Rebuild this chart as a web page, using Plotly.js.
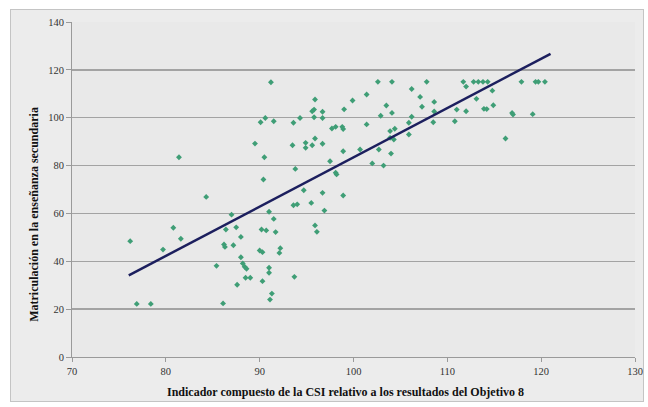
<!DOCTYPE html>
<html>
<head>
<meta charset="utf-8">
<script src="https://cdn.plot.ly/plotly-3.0.1.min.js"></script>
<style>
  html, body { margin: 0; padding: 0; background: #ffffff; }
  #frame { position: absolute; left: 10px; top: 9px; width: 634px; height: 393px;
           background: #ececec; border: 1px solid #c4c4c4; box-sizing: border-box; }
  #chart { position: absolute; left: 0; top: 0; width: 648px; height: 407px; }
</style>
</head>
<body>
<div id="frame"></div>
<div id="chart"></div>
<script>
// Composite CSI indicator (Goal 8 results), x values
const csiIndicator = [
  76.2, 76.9, 78.4, 79.7, 80.8, 81.6, 81.4, 84.3, 85.4, 86.1,
  90.4, 94.7, 96.7, 98.9, 93.6, 94.0, 95.5, 96.9, 91.0, 87.0,
  91.5, 95.9, 96.1, 87.5, 86.4, 90.2, 90.7, 91.7, 88.0, 86.2,
  86.3, 87.2, 90.0, 90.3, 92.2, 92.1, 88.0, 88.2, 88.4, 88.6,
  91.0, 91.0, 88.5, 89.0, 87.6, 90.3, 93.7, 91.3, 91.1, 98.1,
  98.2, 95.9, 95.8, 95.6, 96.7, 99.0, 95.8, 96.7, 94.3, 93.6,
  90.6, 90.1, 91.5, 97.7, 98.1, 98.8, 98.9, 89.5, 93.5, 94.9,
  94.9, 95.6, 95.9, 96.7, 90.5, 93.8, 97.5, 98.9, 91.2, 102.6,
  104.1, 107.8, 106.2, 101.4, 99.9, 107.1, 103.5, 107.3, 108.6, 104.1,
  102.9, 106.2, 108.6, 111.0, 101.4, 105.9, 108.5, 110.8, 103.9, 104.4,
  105.9, 103.9, 104.3, 102.7, 100.7, 104.0, 102.0, 103.2, 111.7, 112.0,
  112.8, 113.3, 113.8, 114.3, 114.8, 117.9, 119.4, 119.7, 120.4, 113.1,
  112.0, 113.9, 114.2, 114.9, 116.9, 117.0, 119.1, 116.2
];
// Secondary school enrolment, y values
const secondaryEnrolment = [
  48.4, 22.2, 22.2, 44.9, 54.0, 49.4, 83.5, 66.9, 38.1, 22.4,
  74.2, 69.7, 68.6, 67.5, 63.4, 63.8, 64.4, 61.2, 60.7, 59.5,
  57.7, 55.0, 52.3, 54.2, 53.3, 53.3, 52.9, 52.2, 50.2, 47.0,
  46.0, 46.7, 44.5, 43.8, 45.5, 43.5, 41.7, 39.1, 37.7, 36.9,
  37.3, 35.2, 33.1, 33.1, 30.2, 31.7, 33.5, 26.5, 24.0, 77.0,
  76.3, 107.6, 103.4, 102.7, 102.5, 103.5, 100.2, 99.9, 99.9, 97.9,
  99.9, 98.1, 98.5, 95.5, 96.2, 96.2, 95.3, 89.2, 88.5, 89.5,
  87.4, 88.5, 91.3, 89.1, 83.5, 78.6, 81.8, 86.0, 114.8, 115.0,
  115.0, 115.0, 112.0, 109.7, 107.2, 108.7, 105.1, 104.6, 106.6, 102.0,
  100.8, 100.4, 102.6, 103.4, 97.2, 97.9, 98.1, 98.5, 94.4, 95.4,
  93.0, 91.6, 90.9, 86.7, 86.7, 85.0, 80.9, 80.0, 115.0, 113.0,
  115.0, 115.0, 115.0, 115.0, 111.3, 115.0, 115.0, 115.0, 115.0, 107.9,
  102.7, 103.7, 103.6, 105.2, 102.0, 101.3, 101.5, 91.3
];
// Linear trend line end points
const trendX = [76.05, 121.0];
const trendY = [34.1, 126.7];

const xTicks = [70, 80, 90, 100, 110, 120, 130];
const yTicks = [0, 20, 40, 60, 80, 100, 120, 140];

const xTitle = "Indicador compuesto de la CSI relativo a los resultados del Objetivo 8";
const yTitle = "Matriculación en la enseñanza secundaria";

const serif = "Liberation Serif, Times New Roman, serif";

const traces = [
  {
    x: csiIndicator, y: secondaryEnrolment, type: "scatter", mode: "markers",
    marker: { symbol: "diamond", size: 4.5, color: "#3f9e76", line: { width: 0 } },
    hoverinfo: "none", showlegend: false
  },
  {
    x: trendX, y: trendY, type: "scatter", mode: "lines",
    line: { color: "#1c1f5e", width: 2.5 },
    hoverinfo: "none", showlegend: false
  }
];

const titleFont = { family: serif, size: 12, color: "#111111", weight: "bold" };

const layout = {
  width: 648, height: 407,
  margin: { l: 72, r: 13, t: 22, b: 50 },
  paper_bgcolor: "rgba(0,0,0,0)",
  plot_bgcolor: "#e9e9e9",
  font: { family: serif, size: 10, color: "#333333" },
  xaxis: {
    range: [70, 130], tickvals: xTicks, ticktext: xTicks.map(String),
    showgrid: false, zeroline: false,
    showline: true, linecolor: "#9a9a9a", linewidth: 1,
    ticks: "outside", ticklen: 4, tickcolor: "#9a9a9a",
    tickfont: { family: serif, size: 10.5, color: "#333333" }
  },
  yaxis: {
    range: [0, 140], tickvals: yTicks, ticktext: yTicks.map(String),
    showgrid: true, gridcolor: "#a3a3a3", gridwidth: 1.5, zeroline: false,
    showline: true, linecolor: "#9a9a9a", linewidth: 1,
    ticks: "outside", ticklen: 5, tickcolor: "#9a9a9a",
    tickfont: { family: serif, size: 10.5, color: "#333333" }
  },
  annotations: [
    { text: xTitle, xref: "paper", yref: "paper", x: 0.485, y: -0.103,
      xanchor: "center", yanchor: "middle", showarrow: false, font: titleFont },
    { text: yTitle, xref: "paper", yref: "paper", x: -0.069, y: 0.425,
      xanchor: "center", yanchor: "middle", textangle: -90, showarrow: false, font: titleFont }
  ]
};

Plotly.newPlot("chart", traces, layout, { staticPlot: true, displayModeBar: false });
</script>
</body>
</html>
